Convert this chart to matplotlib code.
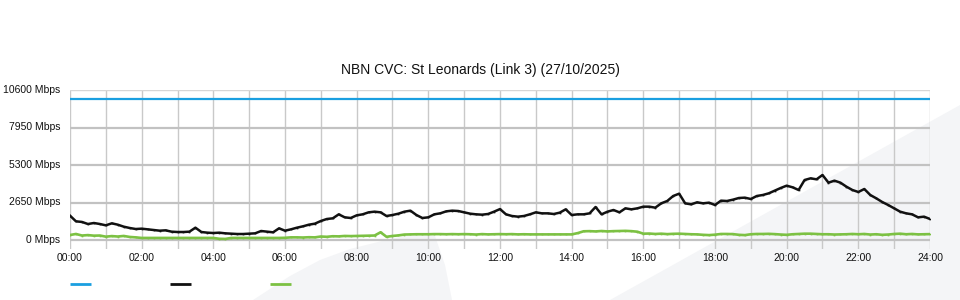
import numpy as np
import matplotlib
matplotlib.use("Agg")
import matplotlib.pyplot as plt
import matplotlib.transforms as mtransforms
from matplotlib.patches import Polygon
from matplotlib.lines import Line2D

plt.rcParams['font.family'] = ['Liberation Sans', 'DejaVu Sans']

title = "NBN CVC: St Leonards (Link 3) (27/10/2025)"
y_ticks = [0, 2650, 5300, 7950, 10600]
y_labels = ["0 Mbps", "2650 Mbps", "5300 Mbps", "7950 Mbps", "10600 Mbps"]
x_ticks = list(range(0, 25, 2))
x_labels = ["%02d:00" % h for h in x_ticks]

# 10-minute samples, 00:00 .. 24:00 (145 points)
capacity = [10000] * 145

traffic = [
    1734, 1333, 1290, 1144, 1215, 1144,
    1050, 1192, 1097, 956, 862, 791,
    815, 768, 720, 673, 697, 603,
    579, 579, 603, 885, 579, 532,
    508, 532, 485, 461, 438, 438,
    461, 485, 650, 603, 556, 838,
    673, 768, 885, 980, 1097, 1168,
    1356, 1498, 1545, 1828, 1616, 1569,
    1757, 1828, 1969, 2016, 1969, 1710,
    1781, 1875, 2016, 2087, 1781, 1569,
    1616, 1828, 1899, 2040, 2087, 2063,
    1969, 1875, 1828, 1804, 1852, 2016,
    2200, 1828, 1710, 1663, 1710, 1828,
    1969, 1898, 1898, 1851, 1946, 2181,
    1781, 1828, 1828, 1898, 2346, 1828,
    2016, 2134, 1969, 2252, 2181, 2252,
    2370, 2370, 2299, 2605, 2770, 3124,
    3288, 2605, 2534, 2676, 2605, 2652,
    2487, 2794, 2770, 2864, 2982, 3006,
    2911, 3124, 3194, 3312, 3501, 3689,
    3854, 3736, 3548, 4254, 4372, 4302,
    4608, 4066, 4207, 4066, 3783, 3548,
    3406, 3618, 3194, 2959, 2699, 2487,
    2252, 2016, 1898, 1828, 1616, 1663,
    1498,
]

upload = [
    367, 440, 330, 360, 320, 330,
    250, 290, 260, 300, 230, 200,
    160, 160, 160, 160, 160, 160,
    160, 160, 160, 160, 160, 160,
    160, 100, 90, 160, 160, 160,
    160, 160, 160, 160, 160, 160,
    170, 200, 200, 190, 210, 200,
    260, 240, 280, 270, 300, 290,
    300, 310, 320, 330, 560, 240,
    300, 340, 400, 410, 420, 420,
    420, 430, 430, 420, 430, 420,
    430, 420, 400, 430, 410, 420,
    430, 420, 430, 410, 420, 410,
    410, 410, 410, 410, 410, 410,
    410, 500, 630, 640, 620, 650,
    620, 640, 650, 660, 640, 600,
    460, 470, 440, 460, 430, 450,
    460, 440, 420, 410, 380, 360,
    390, 440, 440, 430, 380, 360,
    420, 440, 440, 450, 430, 400,
    380, 420, 440, 460, 460, 440,
    420, 420, 400, 410, 420, 440,
    420, 440, 400, 420, 380, 400,
    440, 460, 420, 440, 410, 420,
    430,
]

hours = np.arange(len(traffic)) / 6.0

W, H = 960, 300
fig = plt.figure(figsize=(W / 100, H / 100), dpi=100)
fig.patch.set_facecolor('white')

# background decoration shapes (figure pixel coords, y from top)
def px(points):
    return [(x / W, 1 - y / H) for x, y in points]

shapeA = px([(253, 300), (290, 276), (320, 260), (350, 249), (390, 239),
             (420, 233), (435, 236), (445, 265), (452, 300)])
shapeB = px([(610, 300), (960, 105), (960, 300)])
for s in (shapeA, shapeB):
    fig.patches.append(Polygon(s, closed=True, transform=fig.transFigure,
                               facecolor='#f4f5f7', edgecolor='none', zorder=-10))

ax = fig.add_axes([70 / W, 1 - 249 / H, 860 / W, (249 - 90.2) / H])
ax.set_zorder(1)
ax.patch.set_alpha(0)
ax.set_xlim(0, 24)
ax.set_ylim(-622, 10600)

for h in range(25):
    ax.axvline(h, color='#c9c9c9', lw=1.0, zorder=1)
for v in y_ticks[:-1]:
    ax.axhline(v, color='#c2c2c2', lw=1.6, zorder=1)
ax.axhline(10600, color='#d6d6d6', lw=1.0, zorder=1)

ax.plot(hours, capacity, color='#1a9fe0', lw=1.6, zorder=3)
ax.plot(hours, upload, color='#7cc143', lw=1.9, zorder=3,
        marker='s', ms=1.2, mew=0)
ax.plot(hours, traffic, color='#111111', lw=1.8, zorder=4,
        marker='s', ms=1.2, mew=0)

for s in ax.spines.values():
    s.set_visible(False)
ax.set_yticks(y_ticks)
ax.set_yticklabels(y_labels)
ax.set_xticks(x_ticks)
ax.set_xticklabels(x_labels)
ax.tick_params(axis='both', length=0, labelsize=7.5, colors='#111111')
ax.tick_params(axis='y', pad=7)
ax.tick_params(axis='x', pad=3)

# nudge y labels up slightly, as in the reference
up = mtransforms.ScaledTranslation(0, 1.5 / 100, fig.dpi_scale_trans)
for lbl in ax.get_yticklabels():
    lbl.set_transform(lbl.get_transform() + up)

fig.text(0.5, 1 - 70 / H, title, ha='center', va='center', fontsize=10, color='#111111')

handles = [Line2D([], [], color='#1a9fe0', lw=2.0, solid_capstyle='butt'),
           Line2D([], [], color='#111111', lw=2.0, solid_capstyle='butt'),
           Line2D([], [], color='#7cc143', lw=2.0, solid_capstyle='butt')]
fig.legend(handles, ['', '', ''], ncol=3, loc='center left',
           bbox_to_anchor=(70 / W, 1 - 285 / H), frameon=False,
           fontsize=10, handlelength=1.51, handletextpad=0.0,
           columnspacing=5.69, borderpad=0, borderaxespad=0)

fig.savefig('out.png', dpi=100, facecolor='white')
